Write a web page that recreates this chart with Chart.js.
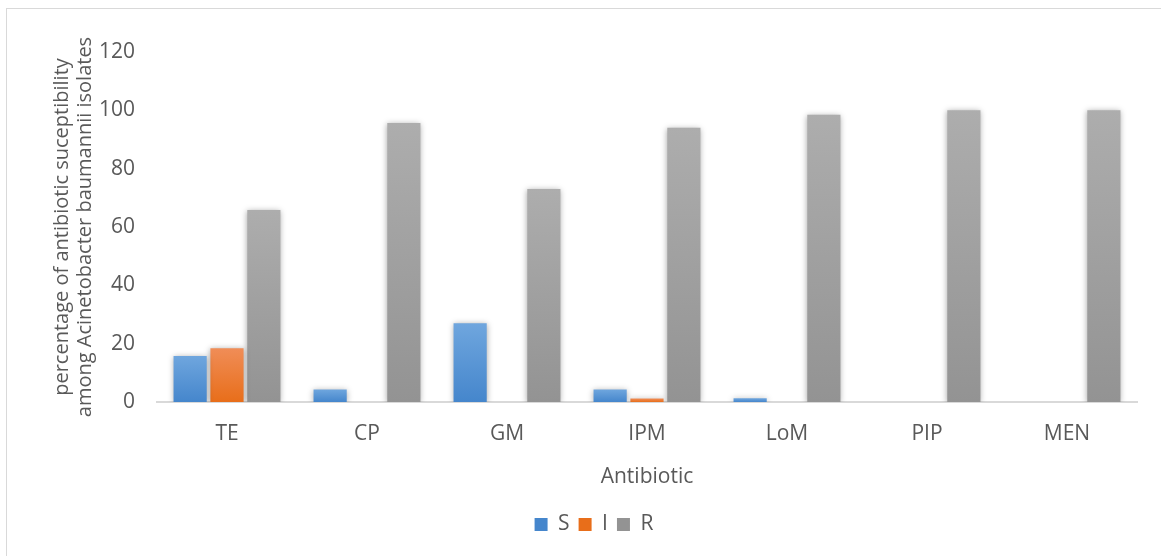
<!DOCTYPE html>
<html lang="en">
<head>
  <meta charset="UTF-8">
  <title>Antibiotic susceptibility</title>
  <script src="https://cdn.jsdelivr.net/npm/chart.js"></script>
  <style>
    body { margin: 0; background: #fff; font-family: "Open Sans", sans-serif; }
    .frame { position: absolute; left: 6px; top: 8px; width: 1200px; height: 600px; border: 1px solid #d9d9d9; }
    .wrap { position: absolute; left: 0; top: 0; width: 1161px; height: 556px; }
  </style>
</head>
<body>
<div class="frame"></div>
<div class="wrap"><canvas id="grafico"></canvas></div>

<script>
const categorias = ["TE", "CP", "GM", "IPM", "LoM", "PIP", "MEN"];
const valoresS = [15.8, 4.3, 27.0, 4.3, 1.3, 0, 0];
const valoresI = [18.4, 0, 0, 1.2, 0, 0, 0];
const valoresR = [65.8, 95.7, 73.0, 94.0, 98.5, 100, 100];
const ticksY = [0, 20, 40, 60, 80, 100, 120];

const texto = "#595959";

// gradiente vertical por barra, como no Excel
function gradiente(topo, base, solido) {
  return ctx => {
    const chart = ctx.chart;
    if (!chart.chartArea || ctx.type !== "data" || !ctx.raw) return solido;
    const y = chart.scales.y;
    const y0 = y.getPixelForValue(ctx.raw);
    const y1 = y.getPixelForValue(0);
    if (Math.abs(y1 - y0) < 1) return solido;
    const g = chart.ctx.createLinearGradient(0, y0, 0, y1);
    g.addColorStop(0, topo);
    g.addColorStop(1, base);
    return g;
  };
}

const sombra = {
  id: "sombra",
  beforeDatasetsDraw(chart) {
    const c = chart.ctx;
    c.save();
    c.shadowColor = "rgba(0,0,0,0.35)";
    c.shadowBlur = 6;
    c.shadowOffsetY = 1;
  },
  afterDatasetsDraw(chart) {
    chart.ctx.restore();
  }
};

new Chart(document.getElementById("grafico"), {
  type: "bar",
  data: {
    labels: categorias,
    datasets: [
      { label: "S", data: valoresS, backgroundColor: gradiente("#6fa6de", "#4586cc", "#5b9bd5") },
      { label: "I", data: valoresI, backgroundColor: gradiente("#f08d57", "#e86e1a", "#ed7d31") },
      { label: "R", data: valoresR, backgroundColor: gradiente("#adadad", "#939393", "#a5a5a5") }
    ]
  },
  options: {
    responsive: true,
    maintainAspectRatio: false,
    animation: false,
    datasets: { bar: { categoryPercentage: 0.79, barPercentage: 0.9 } },
    layout: { padding: { left: 51, right: 24, top: 52, bottom: 11 } },
    plugins: {
      legend: {
        position: "bottom",
        labels: { boxWidth: 13, boxHeight: 13, padding: 9, color: texto, font: { family: "Open Sans", size: 21 } }
      },
      tooltip: { enabled: false }
    },
    scales: {
      x: {
        grid: { display: false, drawTicks: false },
        border: { display: true, color: "#d9d9d9", width: 2 },
        ticks: { color: texto, padding: 19, font: { family: "Open Sans", size: 21 } },
        title: { display: true, text: "Antibiotic", color: texto, padding: { top: 0, bottom: 15 }, font: { family: "Open Sans", size: 21 } },
        afterFit: s => { s.height = 103; }
      },
      y: {
        min: 0,
        max: 120,
        grid: { display: false, drawTicks: false },
        border: { display: false },
        afterBuildTicks: s => { s.ticks = ticksY.map(v => ({ value: v })); },
        ticks: { color: texto, padding: 22, font: { family: "Open Sans", size: 21 } },
        title: {
          display: true,
          text: ["percentage of antibiotic suceptibility", "among Acinetobacter baumannii isolates"],
          color: texto,
          padding: { top: 0, bottom: 0 },
          font: { family: "Open Sans", size: 20, lineHeight: 1.15 }
        },
        afterFit: s => { s.width = 106; }
      }
    }
  },
  plugins: [sombra]
});
</script>
</body>
</html>
